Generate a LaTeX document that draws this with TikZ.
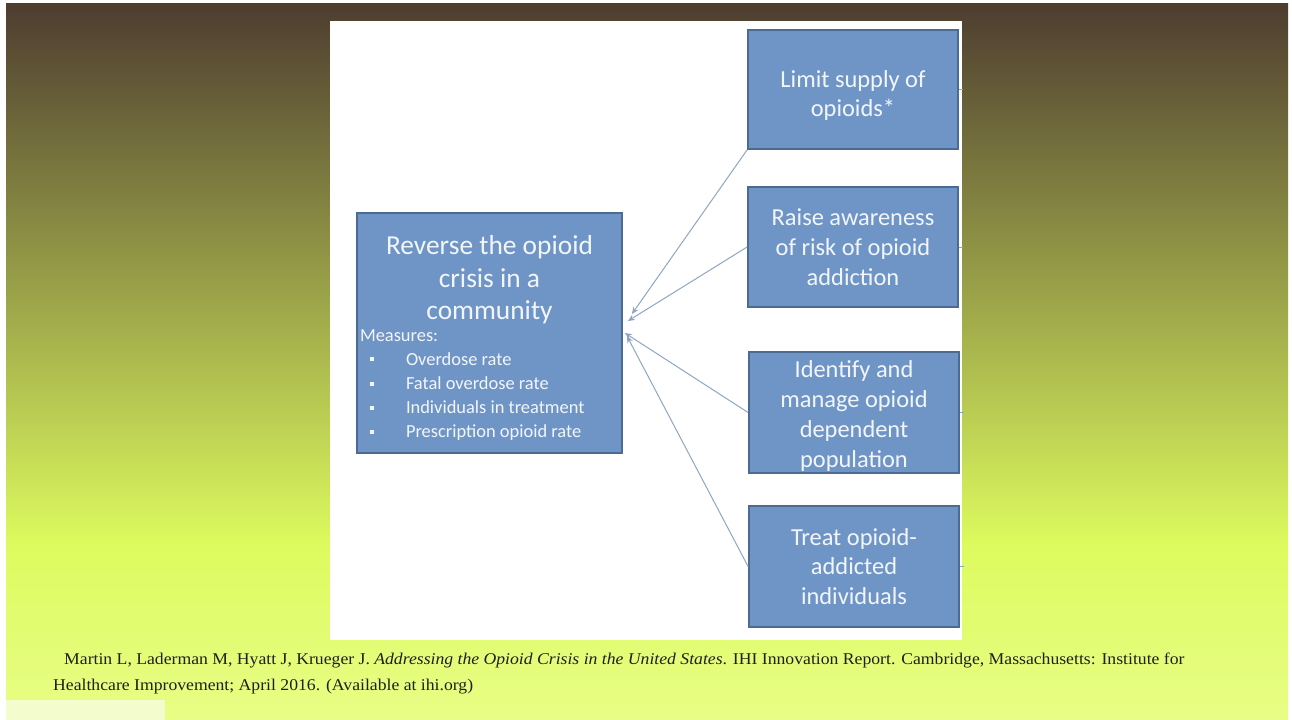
\documentclass[tikz,border=0pt]{standalone}
\usepackage{fontspec}
\usepackage{xcolor}
\usetikzlibrary{arrows.meta}
\newfontfamily\carlito{Carlito}
\newfontfamily\citefont[FakeStretch=1.075]{Liberation Serif}
\definecolor{bgtop}{HTML}{4E3D30}
\definecolor{bgmid}{HTML}{979C45}
\definecolor{bglime}{HTML}{DDFB5E}
\definecolor{bglow}{HTML}{E8FD86}
\definecolor{bgpale}{HTML}{F2FCCC}
\definecolor{boxfill}{HTML}{6F95C7}
\definecolor{boxline}{HTML}{4C6B93}
\definecolor{boxtext}{HTML}{F2F6FA}
\definecolor{linkgray}{HTML}{8FA6C2}
\tikzset{
  goalbox/.style={draw=boxline, fill=boxfill, line width=1.8bp, text=boxtext, minimum width=265bp, minimum height=240bp, inner sep=0pt, font=\carlito},
  leverbox/.style={draw=boxline, fill=boxfill, line width=1.8bp, text=boxtext, minimum width=210bp, minimum height=120bp, inner sep=0pt, align=center, font=\carlito\fontsize{24.5}{30}\selectfont},
  feed/.style={draw=linkgray, line width=1bp, -{Stealth[length=7bp,width=6bp]}},
  stub/.style={draw=linkgray, line width=1bp},
  citeline/.style={anchor=base west, inner sep=0pt, text=black!88, font=\citefont\fontsize{16.5}{26}\selectfont}
}
\newcommand{\measitem}[1]{\hspace*{10bp}\raisebox{4bp}{\rule{4bp}{4bp}}\hspace{32bp}#1\par}
\begin{document}
\begin{tikzpicture}[x=1bp,y=-1bp]
\useasboundingbox (0,0) rectangle (1292,720);
\fill[white] (0,0) rectangle (1292,720);
\shade[top color=bgtop, middle color=bgmid, bottom color=bglime] (6,4) rectangle (1288,545);
\shade[top color=bglime, bottom color=bglow] (6,544) rectangle (1288,720);
\fill[bgpale] (6,700) rectangle (165,720);
\fill[white] (330,21) rectangle (962,640);

\node[goalbox] (goal) at (489.5,333) {%
  \begin{minipage}{259bp}
    \vspace*{10bp}
    \centering\fontsize{27.5}{33}\selectfont Reverse the opioid\\crisis in a\\community\par
    \raggedright\fontsize{18.5}{24.3}\selectfont\vspace{-3bp}Measures:\par
    \measitem{Overdose rate}
    \measitem{Fatal overdose rate}
    \measitem{Individuals in treatment}
    \measitem{Prescription opioid rate}
  \end{minipage}};

\node[leverbox, minimum height=119bp] (limit) at (853,89.5) {\mbox{}\\[-1bp]Limit supply of\\opioids*};
\node[leverbox] (raise) at (853,247) {Raise awareness\\of risk of opioid\\addiction};
\node[leverbox, minimum height=121bp] (identify) at (854,412.5) {\mbox{}\\[-6.5bp]Identify and\\manage opioid\\dependent\\population};
\node[leverbox, minimum height=121bp] (treat) at (854,566.5) {Treat opioid-\\addicted\\individuals};

\draw[feed] (limit.south west) -- ([xshift=9bp,yshift=19bp]goal.east);
\draw[feed] (raise.west) -- ([xshift=5bp,yshift=12bp]goal.east);
\draw[feed] (identify.west) -- ([xshift=2bp,yshift=0bp]goal.east);
\draw[feed] (treat.west) -- ([xshift=4bp,yshift=-3bp]goal.east);

\draw[stub] (limit.east) -- ++(4,0);
\draw[stub] (raise.east) -- ++(4,0);
\draw[stub] (identify.east) -- ++(4,0);
\draw[stub] (treat.east) -- ++(4,0);

\node[citeline] (cite1) at (64,664) {Martin L, Laderman M, Hyatt J, Krueger J. \textit{Addressing the Opioid Crisis in the United States}. IHI Innovation Report. Cambridge, Massachusetts: Institute for};
\node[citeline] (cite2) at (53,690) {Healthcare Improvement; April 2016. (Available at ihi.org)};
\end{tikzpicture}
\end{document}
